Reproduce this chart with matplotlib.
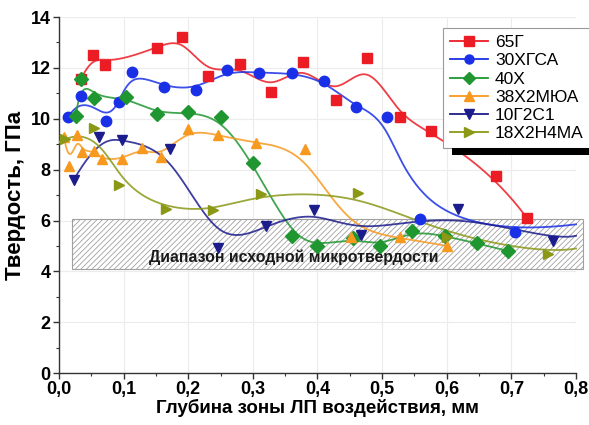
import numpy as np
import matplotlib
matplotlib.use("Agg")
import matplotlib.pyplot as plt
from matplotlib.patches import Rectangle
from matplotlib.ticker import MultipleLocator, FuncFormatter

plt.rcParams['font.family'] = ['Liberation Sans', 'DejaVu Sans']
plt.rcParams['font.weight'] = 'bold'
plt.rcParams['hatch.color'] = '#a8a8a8'
plt.rcParams['hatch.linewidth'] = 0.6

# depth, mm / hardness, GPa for each steel grade
x_65g = [0.034, 0.052, 0.072, 0.152, 0.19, 0.231, 0.28, 0.328, 0.377, 0.428, 0.476, 0.527, 0.576, 0.676, 0.724]
y_65g = [11.55, 12.5, 12.1, 12.8, 13.2, 11.7, 12.15, 11.05, 12.25, 10.75, 12.4, 10.05, 9.5, 7.75, 6.1]

x_30hgsa = [0.014, 0.034, 0.073, 0.093, 0.113, 0.163, 0.212, 0.26, 0.31, 0.36, 0.41, 0.459, 0.507, 0.558, 0.705, 0.8]
y_30hgsa = [10.05, 10.9, 9.9, 10.65, 11.85, 11.25, 11.15, 11.9, 11.8, 11.8, 11.5, 10.45, 10.05, 6.05, 5.55, 5.85]

x_40h = [0.026, 0.034, 0.054, 0.104, 0.152, 0.2, 0.25, 0.3, 0.36, 0.4, 0.455, 0.497, 0.547, 0.597, 0.647, 0.695]
y_40h = [10.1, 11.55, 10.8, 10.85, 10.2, 10.25, 10.05, 8.25, 5.4, 5.0, 5.3, 5.0, 5.6, 5.4, 5.1, 4.8]

x_38h2myua = [0.008, 0.015, 0.028, 0.036, 0.054, 0.067, 0.097, 0.128, 0.158, 0.2, 0.246, 0.305, 0.38, 0.452, 0.527, 0.6]
y_38h2myua = [9.3, 8.15, 9.35, 8.7, 8.75, 8.4, 8.4, 8.85, 8.5, 9.6, 9.35, 9.05, 8.8, 5.35, 5.35, 5.0]

x_10g2s1 = [0.023, 0.062, 0.098, 0.172, 0.246, 0.32, 0.395, 0.468, 0.617, 0.764, 0.8]
y_10g2s1 = [7.6, 9.3, 9.15, 8.8, 4.9, 5.8, 6.4, 5.45, 6.45, 5.2, 5.4]

x_18h2n4ma = [0.01, 0.054, 0.093, 0.166, 0.239, 0.313, 0.462, 0.6, 0.757, 0.8]
y_18h2n4ma = [9.2, 9.65, 7.4, 6.45, 6.4, 7.05, 7.1, 5.35, 4.7, 4.9]

# initial microhardness band
band_x = [0.02, 0.81]
band_y = [4.1, 6.05]


def bspline(px, py, k=3, n=400):
    # clamped uniform B-spline using the data points as control points
    P = np.column_stack([px, py])
    m = len(P)
    k = min(k, m - 1)
    knots = np.concatenate([np.zeros(k), np.linspace(0, 1, m - k + 1), np.ones(k)])
    t = np.linspace(0, 1, n)
    N = np.zeros((n, len(knots) - 1))
    for i in range(len(knots) - 1):
        N[:, i] = (knots[i] <= t) & (t < knots[i + 1])
    N[-1, :] = 0
    N[-1, m - 1] = 1
    for d in range(1, k + 1):
        Nn = np.zeros((n, len(knots) - 1 - d))
        for i in range(len(knots) - 1 - d):
            a = knots[i + d] - knots[i]
            b = knots[i + d + 1] - knots[i + 1]
            term = np.zeros(n)
            if a > 0:
                term += (t - knots[i]) / a * N[:, i]
            if b > 0:
                term += (knots[i + d + 1] - t) / b * N[:, i + 1]
            Nn[:, i] = term
        N = Nn
    c = N @ P
    return c[:, 0], c[:, 1]


series = [
    ('65Г', x_65g, y_65g, '#ec1c24', 's', None),
    ('30ХГСА', x_30hgsa, y_30hgsa, '#1a30e6', 'o', -1),
    ('40Х', x_40h, y_40h, '#1f9630', 'D', None),
    ('38Х2МЮА', x_38h2myua, y_38h2myua, '#f7991e', '^', None),
    ('10Г2С1', x_10g2s1, y_10g2s1, '#1c1c8c', 'v', -1),
    ('18Х2Н4МА', x_18h2n4ma, y_18h2n4ma, '#8a9816', '>', -1),
]

fig = plt.figure(figsize=(5.89, 4.25), dpi=100)
ax = fig.add_axes([0.100, 0.122, 0.878, 0.838])

ax.add_patch(Rectangle((band_x[0], band_y[0]), band_x[1] - band_x[0], band_y[1] - band_y[0],
                       facecolor='white', edgecolor='#a0a0a0', lw=0.8, hatch='//////',
                       clip_on=False, zorder=1))
ax.text(0.364, 4.55, 'Диапазон исходной микротвердости', ha='center', va='center',
        fontsize=11.4, fontweight='bold', color='#1a1a1a', zorder=2)

handles = []
for name, xs, ys, col, mk, cut in series:
    cx, cy = bspline(xs, ys)
    ax.plot(cx, cy, color=col, lw=1.3, alpha=0.85, zorder=3, clip_on=False)
    ax.plot(xs[:cut], ys[:cut], ls='none', marker=mk, color=col, ms=7.5, mec=col, zorder=4, clip_on=False)
    h, = ax.plot([], [], color=col, lw=1.3, marker=mk, ms=6.5, mec=col)
    handles.append(h)

ax.set_xlim(0, 0.8)
ax.set_ylim(0, 14)
ax.spines['top'].set_visible(False)
ax.spines['right'].set_visible(False)
for s in ('left', 'bottom'):
    ax.spines[s].set_color('#333333')
    ax.spines[s].set_linewidth(1.0)

ax.xaxis.set_major_locator(MultipleLocator(0.1))
ax.xaxis.set_minor_locator(MultipleLocator(0.05))
ax.yaxis.set_major_locator(MultipleLocator(2))
ax.yaxis.set_minor_locator(MultipleLocator(1))
ax.xaxis.set_major_formatter(FuncFormatter(lambda v, p: f'{v:.1f}'.replace('.', ',')))
ax.yaxis.set_major_formatter(FuncFormatter(lambda v, p: f'{v:.0f}'))
ax.tick_params(which='major', length=4, width=1, color='#333333', labelsize=13, pad=2)
ax.tick_params(which='minor', length=2.5, width=0.8, color='#333333')
ax.grid(True, which='major', color='#ececec', lw=0.8, zorder=0)
ax.set_axisbelow(True)

ax.set_xlabel('Глубина зоны ЛП воздействия, мм', fontsize=13.5, fontweight='bold', labelpad=0)
ax.set_ylabel('Твердость, ГПа', fontsize=16, fontweight='bold', labelpad=3)

leg = fig.legend(handles, [s[0] for s in series], loc='upper left',
                 bbox_to_anchor=(443 / 589, 1 - 28 / 425), bbox_transform=fig.transFigure,
                 fancybox=False, frameon=True, edgecolor='#9a9a9a', framealpha=1,
                 fontsize=12.5, handlelength=2.2, handletextpad=0.4, labelspacing=0.18,
                 borderpad=0.4, borderaxespad=0)
for t in leg.get_texts():
    t.set_fontweight('normal')
leg.get_frame().set_linewidth(0.8)

# thick dark bar under the legend box
fig.canvas.draw()
bb = leg.get_window_extent()
fig.patches.append(Rectangle((bb.x0 + 9, bb.y0 - 7), bb.width, 7, transform=None,
                             facecolor='black', edgecolor='none', zorder=10))

fig.savefig('out.png', dpi=100)
